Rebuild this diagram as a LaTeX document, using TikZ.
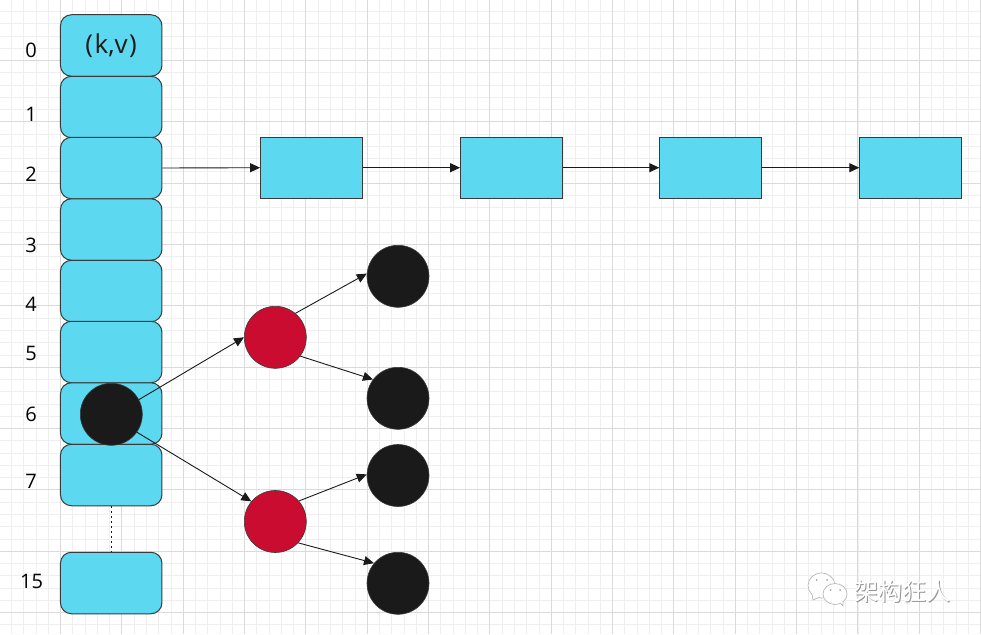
\documentclass[tikz,border=0pt]{standalone}
\usepackage{fontspec}
\setmainfont{Open Sans}
\newfontfamily\cjk{Noto Sans CJK SC}
\usetikzlibrary{arrows.meta}
\definecolor{cyanfill}{HTML}{5CD9F0}
\definecolor{redfill}{HTML}{C90C30}
\definecolor{inkc}{HTML}{1A1A1A}
\definecolor{edgec}{HTML}{3A3A3A}
\definecolor{gridmin}{HTML}{EFEFEF}
\definecolor{gridmaj}{HTML}{DADADA}
\tikzset{
  x=1pt,y=-1pt,
  bucket/.style={draw=edgec,line width=1pt,fill=cyanfill,rounded corners=11pt,minimum width=101.5pt,minimum height=61.5pt,inner sep=0pt,font=\fontsize{26}{26}\selectfont,text=inkc},
  entry/.style={draw=edgec,line width=.8pt,fill=cyanfill,minimum width=102pt,minimum height=61pt,inner sep=0pt},
  blackdot/.style={circle,draw=edgec,line width=.6pt,fill=inkc,minimum size=62pt,inner sep=0pt},
  reddot/.style={circle,draw=edgec,line width=.6pt,fill=redfill,minimum size=62pt,inner sep=0pt},
  idx/.style={text=black,font=\fontsize{20}{20}\selectfont,inner sep=0pt},
  link/.style={draw=inkc,line width=.9pt,-{Triangle[length=10pt,width=9pt]}},
  wmshadow/.style={font=\cjk\fontsize{24}{24}\selectfont,inner sep=0pt,text=gray!85},
  wmtext/.style={font=\cjk\fontsize{24}{24}\selectfont,inner sep=0pt,text=white},
  bubble/.style={draw=gray!55,line width=.7pt,fill=white}
}
\begin{document}
\begin{tikzpicture}
\useasboundingbox (0,0) rectangle (981,634);
\fill[white] (0,0) rectangle (981,634);
\foreach \i in {0,...,80}{
  \draw[gridmin,line width=.8pt] ({-0.8+12.267*\i},0) -- ({-0.8+12.267*\i},634);
}
\foreach \i in {0,...,52}{
  \draw[gridmin,line width=.8pt] (0,{-0.8+12.267*\i}) -- (981,{-0.8+12.267*\i});
}
\foreach \i in {0,...,16}{
  \draw[gridmaj,line width=.9pt] ({-0.8+61.33*\i},0) -- ({-0.8+61.33*\i},634);
}
\foreach \i in {0,...,10}{
  \draw[gridmaj,line width=.9pt] (0,{-0.8+61.33*\i}) -- (981,{-0.8+61.33*\i});
}
% index labels
\node[idx] (i0) at (31,50.5) {0};
\node[idx] (i1) at (31,114.5) {1};
\node[idx] (i2) at (31,174.5) {2};
\node[idx] (i3) at (31,245.5) {3};
\node[idx] (i4) at (31,304.5) {4};
\node[idx] (i5) at (31,353.5) {5};
\node[idx] (i6) at (31,414.5) {6};
\node[idx] (i7) at (31,481.5) {7};
\node[idx] (i15) at (31.5,581.5) {15};
% buckets
\node[bucket] (b0) at (111.2,45.5) {(\kern1.5pt k,v\kern1.5pt)};
\node[bucket] (b1) at (111.2,107) {};
\node[bucket] (b2) at (111.2,168) {};
\node[bucket] (b3) at (111.2,229.5) {};
\node[bucket] (b4) at (111.2,291) {};
\node[bucket] (b5) at (111.2,352) {};
\node[bucket] (b6) at (111.2,413.5) {};
\node[bucket] (b7) at (111.2,475) {};
\node[bucket] (b15) at (111.2,583) {};
\draw[inkc,line width=1pt,dash pattern=on 1.5pt off 3.5pt] (b7.south) -- (b15.north);
% chain
\node[entry] (e1) at (311.5,167.7) {};
\node[entry] (e2) at (511.5,167.7) {};
\node[entry] (e3) at (710.7,167.7) {};
\node[entry] (e4) at (910.7,167.7) {};
\draw[link] (b2.east) -- (e1.west);
\draw[link] (e1.east) -- (e2.west);
\draw[link] (e2.east) -- (e3.west);
\draw[link] (e3.east) -- (e4.west);
% tree
\node[blackdot] (root) at (111.3,414.3) {};
\node[reddot] (r1) at (275.3,337.3) {};
\node[reddot] (r2) at (275.3,521.5) {};
\node[blackdot] (t1) at (398,276.3) {};
\node[blackdot] (t2) at (398,398.3) {};
\node[blackdot] (t3) at (398,475.5) {};
\node[blackdot] (t4) at (398,583.3) {};
\draw[link] (root.28) -- (r1.180);
\draw[link] (root.-35) -- (r2.140);
\draw[link] (r1.50) -- (t1.175);
\draw[link] (r1.-37) -- (t2.143);
\draw[link] (r2.41) -- (t3.178);
\draw[link] (r2.-43) -- (t4.140);
% watermark
\draw[bubble] (821.5,585.5) ellipse (13.5 and 12.5);
\draw[bubble] (812,594) -- (813,600) -- (820,597);
\draw[bubble] (835,594) ellipse (12 and 10.5);
\draw[bubble] (840,603) -- (843,606) -- (843,601);
\fill[gray!70] (816.5,580) circle (1) (827,580) circle (1) (830.5,590) circle (1) (840,590) circle (1);
\node[wmshadow,anchor=west] (wm0) at (855.3,592) {架构狂人};
\node[wmtext,anchor=west] (wm) at (854.5,591.2) {架构狂人};
\end{tikzpicture}
\end{document}
